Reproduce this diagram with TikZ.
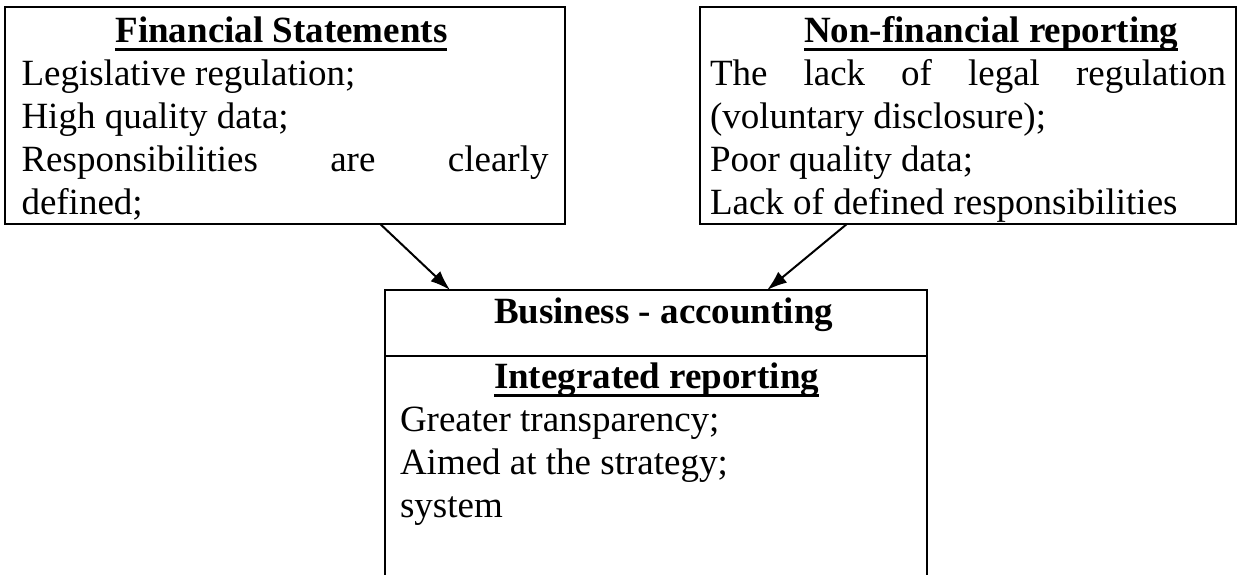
\documentclass[tikz,border=0pt]{standalone}
\usepackage{fontspec}
\setmainfont{Liberation Serif}
\usetikzlibrary{arrows.meta,calc}

\setlength{\parindent}{0pt}
\newsavebox{\headbox}
\newcommand{\boxhead}[1]{\hspace*{47pt}\sbox{\headbox}{\textbf{#1}}%
  \rlap{\rule[-4.3pt]{\wd\headbox}{1.4pt}}\usebox{\headbox}}

\begin{document}
\begin{tikzpicture}[x=0.5pt,y=-0.5pt,
  box/.style={draw, line width=1pt, anchor=north west, inner ysep=0pt, outer sep=0pt,
    align=justify, font=\fontsize{18.5pt}{21.5pt}\selectfont},
  link/.style={-{Latex[length=10pt,width=7pt]}, line width=1pt}
  ]
	\useasboundingbox (0,0) rectangle (1241,574);
	\clip (0,0) rectangle (1241,574);

	\node[box, inner xsep=8.25pt, text width=263.5pt] (fin) at (5,7)
		{\rule{0pt}{17.5pt}\boxhead{Financial Statements}\\
		Legislative regulation;\\
		High quality data;\\
		Responsibilities are clearly\linebreak defined;\rule[-5pt]{0pt}{5pt}};

	\node[box, inner xsep=5pt, text width=258pt] (nonfin) at (700,7)
		{\rule{0pt}{17.5pt}\boxhead{Non-financial reporting}\\
		The lack of legal regulation\linebreak (voluntary disclosure);\\
		Poor quality data;\\
		Lack of defined responsibilities\rule[-5pt]{0pt}{5pt}};

	\node[box, inner xsep=7.5pt, text width=256pt] (biz) at (385,290)
		{\rule{0pt}{16.5pt}\hspace*{47pt}\textbf{Business - accounting}\rule[-16.5pt]{0pt}{16.5pt}};
	\node[box, inner xsep=7.5pt, text width=256pt] (ir) at (biz.south west)
		{\rule{0pt}{16pt}\boxhead{Integrated reporting}\\
		Greater transparency;\\
		Aimed at the strategy;\\
		system\rule[-40pt]{0pt}{40pt}};

	\draw[link] ($(fin.south west)!0.67!(fin.south east)$) -- ($(biz.north west)!0.12!(biz.north east)$);
	\draw[link] ($(nonfin.south west)!0.274!(nonfin.south east)$) -- ($(biz.north west)!0.705!(biz.north east)$);
\end{tikzpicture}
\end{document}
